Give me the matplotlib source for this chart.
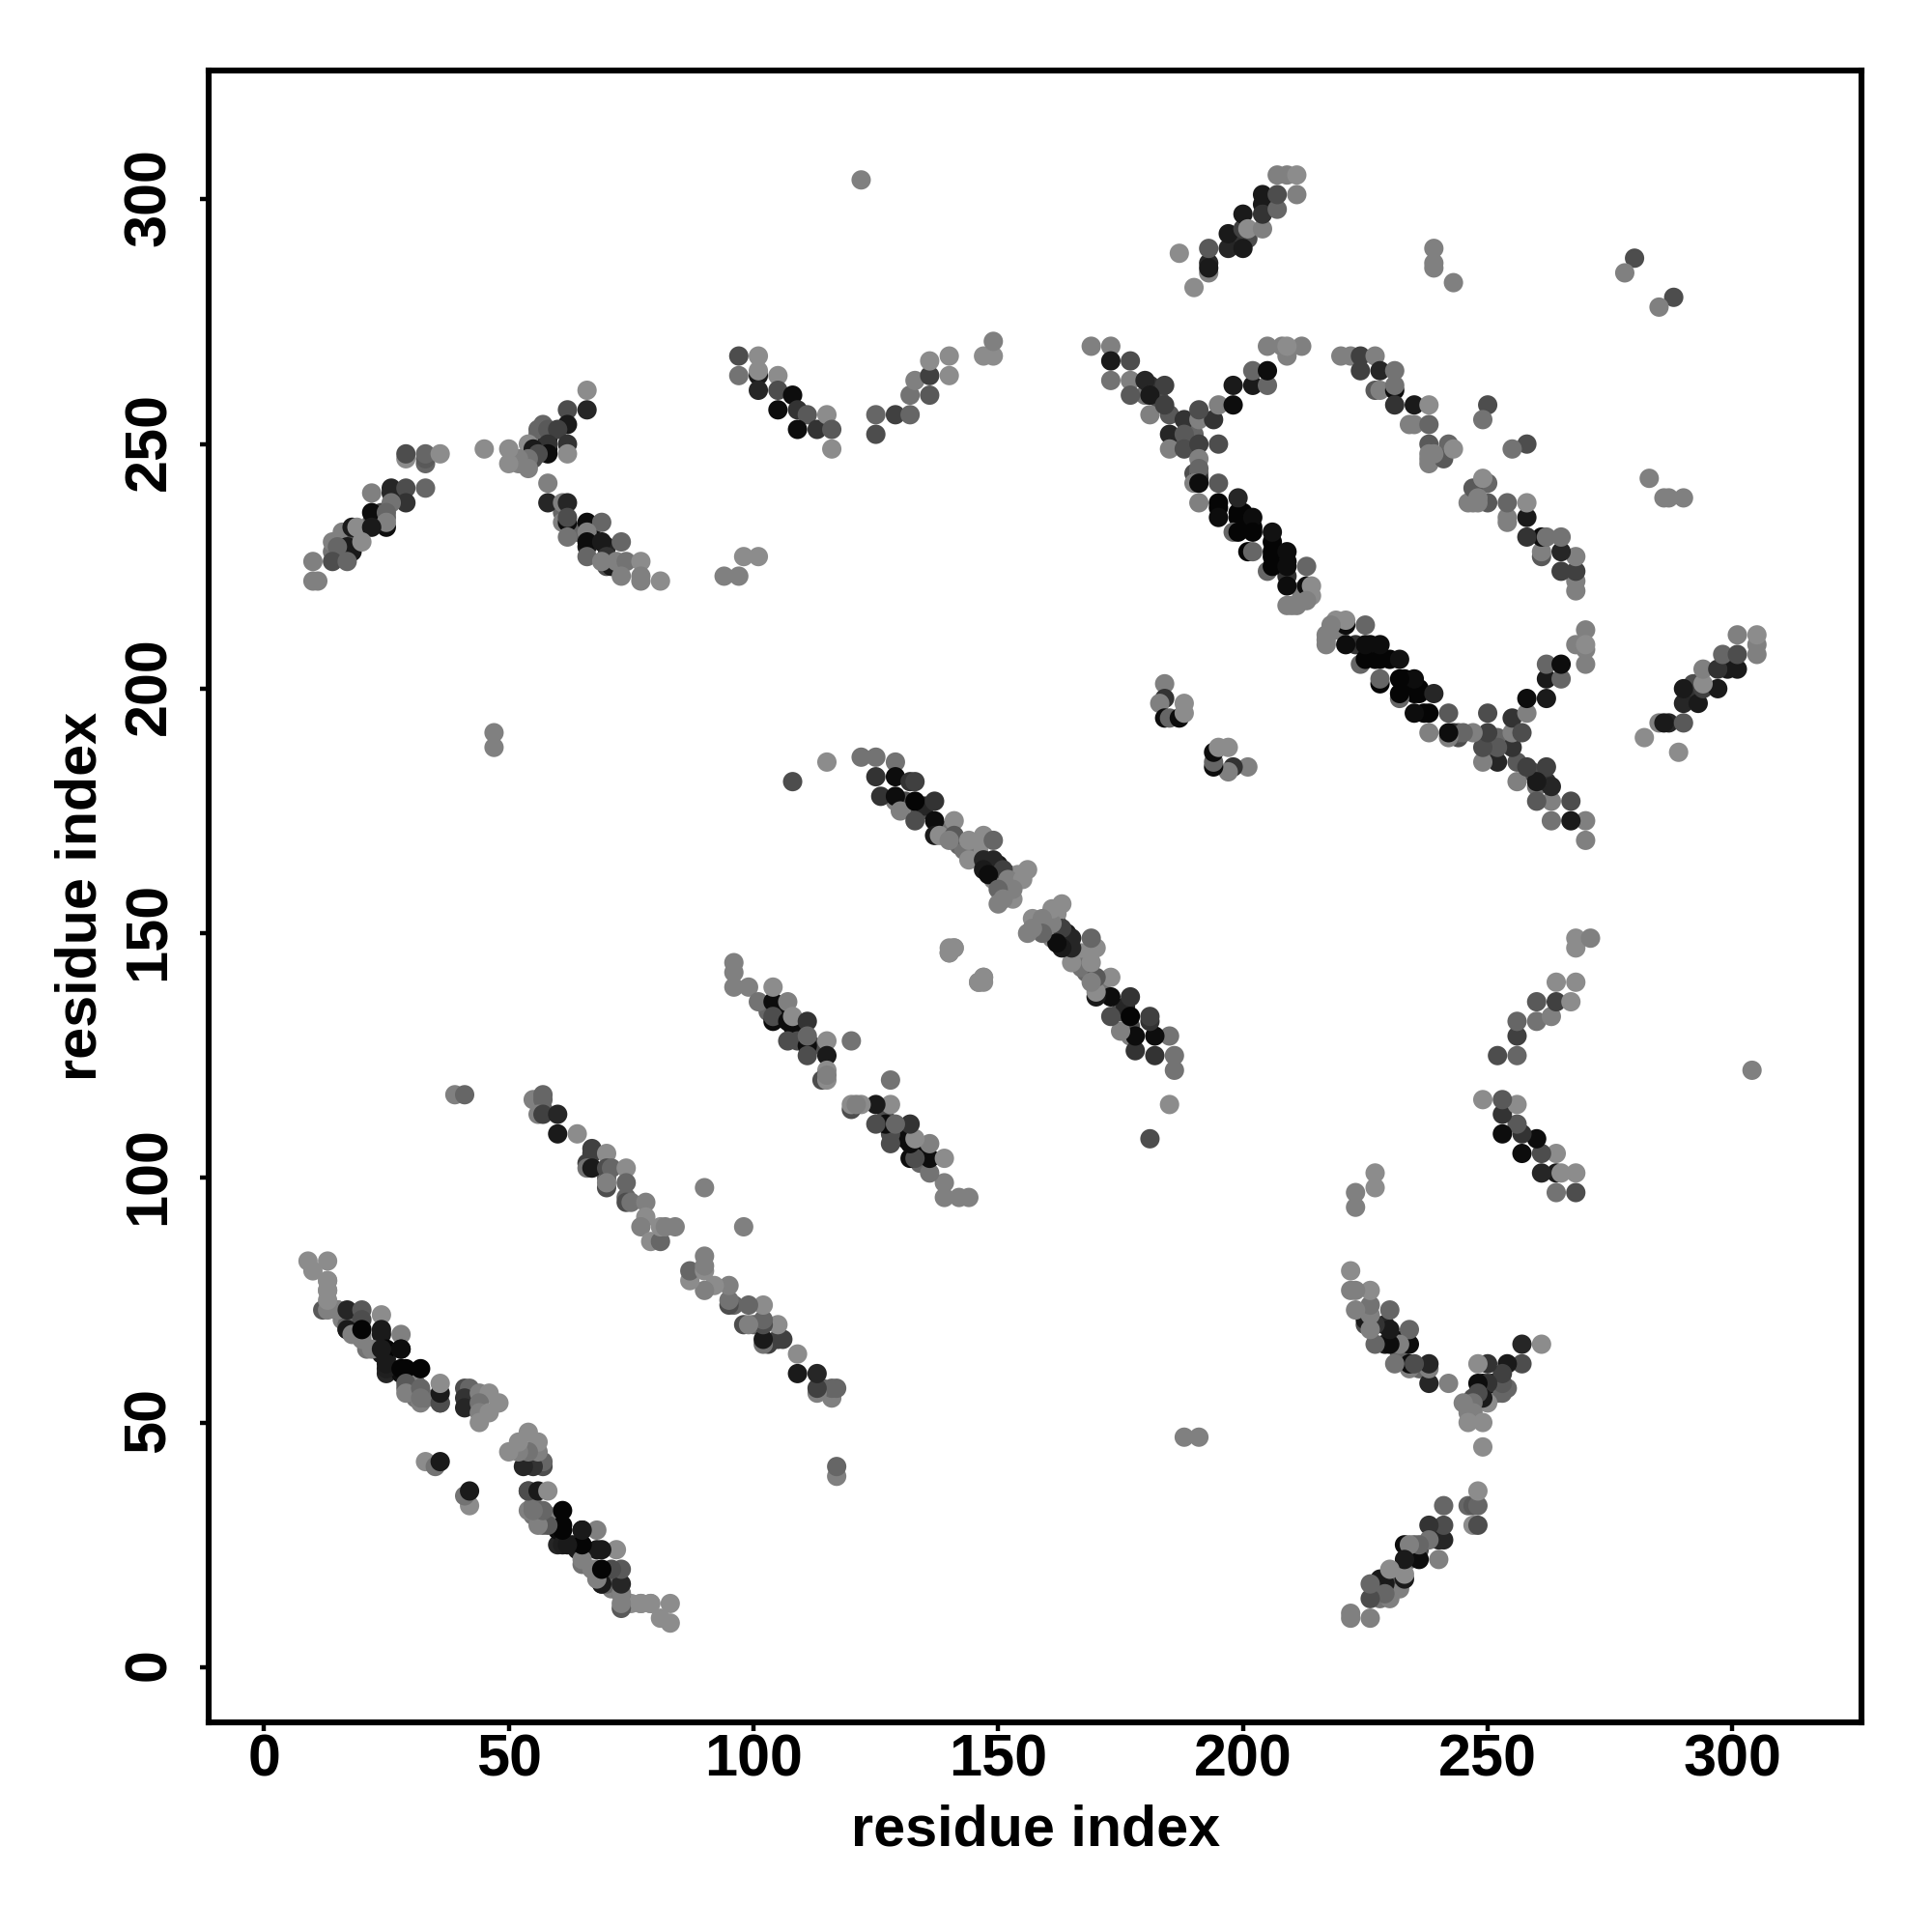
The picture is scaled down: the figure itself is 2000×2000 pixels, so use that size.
import matplotlib
matplotlib.use("Agg")
import matplotlib.pyplot as plt
import matplotlib.transforms as mtrans
import numpy as np

plt.rcParams['font.family'] = ['Liberation Sans', 'DejaVu Sans']
plt.rcParams['font.weight'] = 'bold'

# contacts (residue a, residue b, grey level); the map is symmetric in a and b
underlying_contacts = [
    (16,71,.5),(20,68,.5),(24,65,.1),(25,63,.1),(25,60,.15),(28,60,.05),(30,57,.45),(31,55,.45),(32,54,.5),
    (36,54,.35),(33,55,.45),(32,56,.45),(31,58,.5),(29,57,.4),(25,61,.12),(24,64,.1),(21,65,.45),(20,67,.5),
    (17,69,.05),(17,70,.4),(15,73,.4),(12,73,.35),
    (195,237,.02),(199,236,.02),(200,236,.02),(202,233,.02),(206,230,.02),(206,227,.02),(209,226,.05),
    (205,224,.4),(201,228,.02),(209,223,.2),
    (129,177,.5),(131,177,.3),(134,175,.3),(135,176,.15),(139,171,.45),(142,168,.4),(146,167,.55),(143,167,.45),
    (150,164,.1),(149,163,.15),(149,161,.5),(152,162,.15),(154,162,.55),(153,157,.55),
    (57,114,.4),(66,103,.25),(70,100,.4),(74,96,.4),
    (104,134,.3),(103,134,.4),(108,131,.05),(106,134,.05),(112,127,.3),(109,128,.3),
    (16,231,.1),(16,232,.5),(18,229,.1),(18,228,.1),(22,234,.4),(24,236,.3),(25,235,.4),(19,231,.3),(15,227,.4),
    (24,234,.55),(26,240,.15),(33,246,.4),(14,228,.45),
    (52,246,.5),(53,247,.3),(55,247,.3),(56,252,.45),(57,254,.4),(56,251,.55),(55,250,.5),(58,251,.05),(58,249,.05),
    (67,233,.05),(66,233,.05),(66,229,.1),(70,229,.15),(70,225,.3),(71,225,.1),(64,232,.4),(61,236,.4),
    (190,244,.3),(191,244,.4),(191,243,.2),(188,250,.35),(188,251,.3),(190,252,.4),(183,259,.3),(180,260,.45),
    (181,262,.2),(193,287,.15),(201,292,.3),(204,299,.1),(198,291,.2),
    (210,217,.5),(212,219,.5),(212,220,.5),(214,219,.55),
]
strand_n_terminal = [
    (9,83,.55),(13,83,.55),(10,81,.55),(13,79,.55),(13,77,.55),(13,73,.5),(15,73,.5),(17,73,.15),(20,73,.35),
    (20,71,.3),(17,69,.1),(18,68,.5),(20,69,.02),(24,72,.55),(24,69,.1),(24,68,.1),(22,65,.5),(25,65,.02),
    (28,68,.5),(28,65,.1),(25,62,.1),(28,61,.02),(29,61,.02),(32,61,.02),(29,58,.35),(29,56,.5),(32,57,.4),
    (32,55,.45),(36,54,.3),(36,56,.1),(36,58,.55),(41,57,.3),(42,57,.4),(41,55,.2),(41,53,.15),(44,56,.5),
    (46,56,.55),(44,54,.45),(44,52,.5),(44,50,.55),(48,54,.55),(46,52,.55),(75,13,.55),(77,13,.55),(79,13,.55),
    (65,24,.1),(65,28,.05),
]
isolated_contacts = [
    (33,42,.55),(35,41,.45),(36,42,.1),(39,117,.5),(41,117,.4),(90,98,.5),(47,188,.5),(47,191,.5),
    (122,304,.5),(108,181,.3),(120,128,.45),(115,185,.55),(140,146,.55),(140,147,.55),(141,147,.55),
    (146,140,.55),(147,141,.55),
]
strand_55_117 = [
    (55,116,.5),(57,117,.4),(57,116,.4),(56,113,.5),(57,113,.25),(60,113,.15),(60,109,.1),(64,109,.55),
    (67,106,.25),(67,105,.25),(70,105,.55),(66,102,.45),(67,102,.1),(70,102,.3),(71,102,.4),(74,102,.55),
    (70,98,.3),(70,99,.5),(74,99,.4),(74,95,.3),(75,95,.45),(78,95,.5),(78,92,.55),(77,90,.5),(79,87,.55),
    (81,87,.4),(81,90,.55),(82,90,.5),(84,90,.5),
]
strand_96_144 = [
    (96,144,.5),(96,142,.5),(96,139,.5),(99,139,.5),(101,136,.45),(104,136,.05),(104,139,.55),(107,136,.5),
    (104,132,.05),(104,133,.3),(107,132,.05),(108,133,.55),(111,132,.2),(107,128,.3),(111,127,.05),(111,129,.4),
    (115,128,.55),(111,125,.3),(115,125,.1),(115,122,.55),(114,120,.3),(115,120,.55),(115,121,.5),
]
strand_122_186 = [
    (122,186,.45),(125,186,.45),(129,185,.45),(125,182,.2),(126,178,.2),(129,182,.05),(129,178,.05),
    (132,181,.2),(133,181,.25),(130,175,.5),(133,177,.02),(137,177,.2),(133,173,.3),(137,173,.05),
    (141,173,.55),(137,170,.1),(138,170,.55),(141,170,.35),(140,169,.5),(144,169,.55),(147,170,.55),
    (149,169,.4),(144,165,.55),(147,165,.15),(149,165,.15),(147,163,.1),(151,163,.25),(148,162,.05),
    (152,161,.5),(156,163,.55),(155,161,.55),(153,159,.5),(150,159,.4),(151,157,.5),(150,156,.5),
]
strand_10_36 = [
    (29,247,.55),(29,248,.3),(33,247,.35),(33,248,.4),(36,248,.55),(22,240,.5),(26,241,.15),(29,241,.3),
    (33,241,.4),(29,238,.2),(26,238,.45),(22,236,.05),(25,236,.4),(18,233,.1),(19,233,.55),(25,233,.05),
    (25,234,.5),(22,233,.1),(14,230,.5),(17,229,.1),(15,229,.4),(20,230,.55),(10,226,.5),(14,226,.3),
    (17,226,.4),(10,222,.5),(11,222,.5),
]
strand_45_66 = [
    (66,261,.55),(66,257,.15),(62,257,.3),(62,254,.1),(56,253,.4),(58,253,.35),(60,253,.25),(62,250,.2),
    (62,248,.55),(58,250,.2),(58,248,.05),(54,250,.55),(55,249,.1),(56,248,.3),(54,247,.45),(54,245,.5),
    (52,247,.5),(50,249,.55),(50,246,.55),(45,249,.55),
]
strand_58_81 = [
    (58,242,.5),(58,238,.15),(61,238,.5),(62,238,.15),(61,234,.5),(62,234,.05),(62,235,.3),(66,234,.05),
    (69,234,.4),(62,231,.45),(66,232,.5),(66,230,.05),(69,230,.1),(73,230,.4),(66,227,.4),(70,227,.2),
    (69,226,.5),(72,226,.5),(74,226,.45),(77,226,.55),(73,223,.5),(77,223,.5),(77,222,.5),(81,222,.55),
]
strand_97_116 = [
    (97,268,.3),(101,268,.55),(97,264,.45),(101,264,.1),(101,265,.55),(105,264,.55),(101,261,.15),
    (105,261,.3),(108,260,.05),(105,257,.05),(109,257,.2),(111,256,.35),(109,253,.05),(113,253,.2),
    (115,256,.55),(116,249,.55),(116,253,.35),(94,223,.5),(97,223,.5),(98,227,.55),(101,227,.55),
]
strand_125_149 = [
    (125,256,.4),(125,252,.3),(129,256,.25),(132,256,.4),(132,260,.45),(133,263,.5),(136,260,.35),
    (136,264,.25),(136,267,.55),(140,264,.55),(140,268,.55),(147,268,.55),(149,268,.55),(149,271,.5),
]
strand_169_214 = [
    (169,270,.5),(173,270,.5),(173,267,.1),(177,267,.3),(173,263,.45),(177,263,.5),(180,263,.15),(184,262,.25),
    (177,260,.35),(181,260,.1),(181,256,.5),(185,256,.35),(184,258,.25),(188,255,.2),(191,255,.5),(194,255,.2),
    (195,258,.5),(198,258,.05),(198,262,.1),(202,262,.1),(205,262,.4),(202,265,.4),(205,265,.05),(205,270,.5),
    (208,270,.5),(209,268,.5),(212,270,.5),(209,270,.55),(185,252,.15),(185,249,.5),(188,252,.35),(188,249,.3),
    (191,250,.25),(195,250,.3),(191,247,.5),(191,245,.4),(190,242,.5),(191,242,.05),(191,238,.5),(195,242,.35),
    (195,238,.02),(199,239,.15),(195,235,.05),(199,235,.02),(202,235,.05),(198,232,.4),(199,232,.02),(202,232,.02),
    (206,232,.07),(202,228,.4),(206,228,.02),(209,228,.05),(206,225,.02),(209,225,.05),(213,225,.4),(209,221,.05),
    (213,221,.05),(214,221,.55),(209,217,.5),(211,217,.5),(213,218,.5),(191,257,.3),
]
strand_220_243 = [
    (220,268,.5),(222,268,.5),(224,268,.25),(227,268,.5),(224,265,.25),(228,265,.15),(231,265,.45),(227,261,.35),
    (228,261,.5),(231,261,.05),(231,262,.45),(231,258,.2),(235,258,.1),(238,258,.55),(234,254,.5),(235,254,.5),
    (238,254,.4),(238,250,.35),(238,247,.5),(238,246,.5),(238,248,.5),(242,250,.4),(241,247,.35),(239,248,.5),
    (243,249,.55),(250,258,.3),(249,255,.45),
]
cluster_184_201 = [
    (184,201,.5),(184,198,.2),(183,197,.5),(184,194,.05),(185,194,.4),(187,194,.05),(188,197,.55),(188,195,.55),
]
strand_187_211 = [
    (187,289,.55),(190,282,.55),(193,285,.5),(193,286,.1),(193,290,.35),(197,290,.15),(197,293,.1),(200,290,.1),
    (200,294,.25),(200,297,.1),(201,294,.55),(204,294,.5),(204,297,.2),(204,301,.1),(207,298,.4),(207,301,.3),
    (207,305,.5),(209,305,.5),(211,301,.5),(211,305,.55),
]
far_contacts = [
    (239,290,.5),(239,287,.5),(239,286,.5),(243,283,.5),(280,288,.3),(278,285,.5),
]
all_strands = [underlying_contacts, strand_n_terminal, strand_55_117, strand_96_144, strand_122_186, strand_10_36,
               strand_45_66, strand_58_81, strand_97_116, strand_125_149, strand_169_214,
               strand_220_243, cluster_184_201, strand_187_211, far_contacts, isolated_contacts]

x_ticks = [0, 50, 100, 150, 200, 250, 300]
axis_label = "residue index"

fig = plt.figure(figsize=(10, 10), dpi=200)
ax = fig.add_axes([0.108, 0.1085, 0.8556, 0.8551])

a, b, g = [], [], []
for strand in all_strands:
    for i, j, grey in strand:
        a.append(i); b.append(j); g.append(grey)
a, b, g = np.array(a), np.array(b), np.array(g)
xs = np.concatenate([a, b])
ys = np.concatenate([b, a])
gs = np.concatenate([g, g])
ax.scatter(xs, ys, s=52, c=[str(v) for v in gs], linewidths=0, zorder=3)

ax.set_xlim(-11.3, 326.4)
ax.set_ylim(-11.3, 326.4)
ax.set_xticks(x_ticks)
ax.set_yticks(x_ticks)
ax.tick_params(axis='x', length=3.2, width=1.6, labelsize=22, pad=1)
ax.tick_params(axis='y', length=3.2, width=1.6, labelsize=22, pad=8.3)
nudge = mtrans.ScaledTranslation(0, 2.5 / 200, fig.dpi_scale_trans)
for lab in ax.get_yticklabels():
    lab.set_rotation(90)
    lab.set_va('center')
    lab.set_transform(lab.get_transform() + nudge)
for lab in ax.get_xticklabels() + ax.get_yticklabels():
    lab.set_fontweight('bold')
for s in ax.spines.values():
    s.set_linewidth(2.2)
ax.set_xlabel(axis_label, fontsize=21.4, fontweight='bold', labelpad=5.8)
ax.set_ylabel(axis_label, fontsize=21.4, fontweight='bold', labelpad=5.5)

fig.savefig("out.png", dpi=200, facecolor='white')
